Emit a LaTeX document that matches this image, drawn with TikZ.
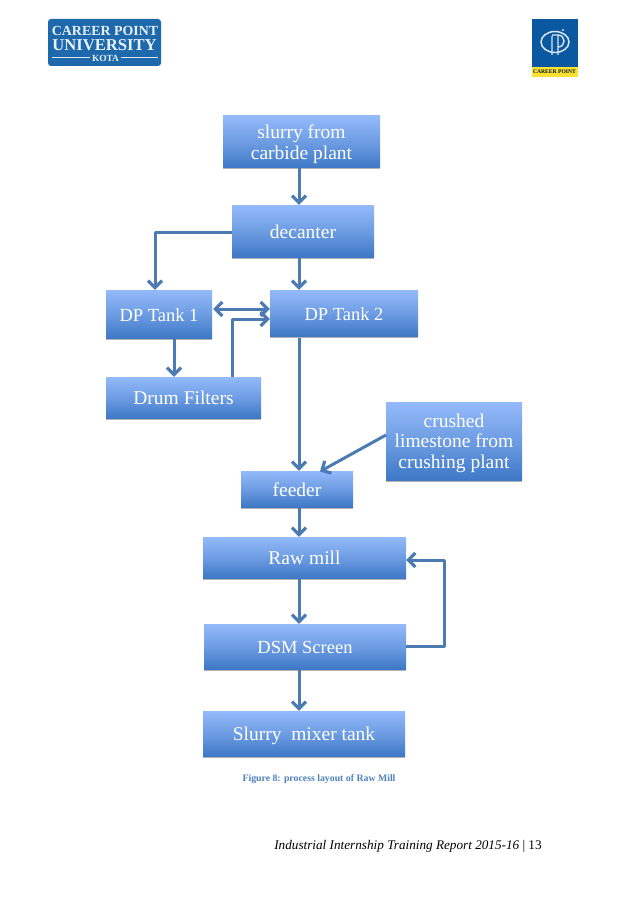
\documentclass[tikz,border=0pt]{standalone}
\usepackage{fontspec}
\setmainfont{Liberation Serif}
\usetikzlibrary{arrows.meta,shadows}
\definecolor{boxtop}{RGB}{148,186,250}
\definecolor{boxbot}{RGB}{62,120,198}
\definecolor{linkc}{RGB}{76,122,178}
\definecolor{capc}{RGB}{79,129,189}
\definecolor{logoblue}{RGB}{30,105,172}
\definecolor{cpblue}{RGB}{10,88,160}
\definecolor{cpyellow}{RGB}{250,225,50}
\tikzset{
  flowbox/.style={rectangle,inner sep=0pt,text=white,align=center,
    top color=boxtop,bottom color=boxbot,middle color=boxtop!55!boxbot,
    font=\fontsize{19.5}{20.5}\selectfont,
    drop shadow={shadow xshift=0pt,shadow yshift=-1.5pt,opacity=.3,fill=black}},
  barb/.tip={Straight Barb[length=7pt,width=14pt,line width=3.2pt]},
  link/.style={draw=linkc,line width=3pt,line join=round,-{barb}},
  linkboth/.style={draw=linkc,line width=3pt,{barb}-{barb}},
  logotext/.style={inner sep=0pt,text=white!90!logoblue}
}
\newcommand{\placebox}[6]{% name, x0, y0, x1, y1, text
  \node[flowbox,minimum width=#4pt-#2pt,minimum height=#5pt-#3pt] (#1) at ({(#2+#4)/2},{(#3+#5)/2}) {\rule[-4pt]{0pt}{22pt}#6};}
\begin{document}
\begin{tikzpicture}[x=1pt,y=-1pt]
\fill[white] (0,0) rectangle (638,904);
\useasboundingbox (0,0) rectangle (638,904);
% left logo
\node[rectangle,rounded corners=3pt,fill=logoblue,minimum width=113pt,minimum height=47pt,inner sep=0pt] (logoL) at (104.5,42.5) {};
\node[logotext,font=\bfseries\fontsize{13.9}{14}\selectfont] (lcp) at (105,31) {CAREER POINT};
\node[logotext,font=\bfseries\fontsize{16.6}{17}\selectfont] (luni) at (104.5,45.5) {UNIVERSITY};
\node[logotext,font=\bfseries\fontsize{9.4}{10}\selectfont] (lkota) at (105.5,58) {KOTA};
\coordinate (lleft) at (52,57.5);
\coordinate (lright) at (158,57.5);
\draw[white!85!logoblue,line width=.7pt,shorten >=2pt] (lleft) -- (lkota.west |- lleft);
\draw[white!85!logoblue,line width=.7pt,shorten <=2pt] (lkota.east |- lright) -- (lright);
% right logo
\node[rectangle,fill=cpblue,minimum width=46pt,minimum height=48pt,inner sep=0pt] (logoR) at (554.5,43) {};
\node[rectangle,fill=cpyellow,minimum width=46pt,minimum height=10pt,inner sep=0pt] (logoRb) at (554.5,72) {};
\node[inner sep=0pt,text=black!80!cpblue,font=\bfseries\fontsize{5.6}{6}\selectfont] (cptext) at (554.5,72) {CAREER POINT};
\draw[white!85!cpblue,line width=1.5pt] (555,42) ellipse [x radius=14,y radius=10.5];
\draw[white!85!cpblue,line width=1.4pt] (552,36) -- (552,55) (558,36) -- (558,55)
  (552,35) -- (558,35) .. controls (566,35) and (566,47) .. (558,47);
\fill[white!85!cpblue] (563,30) circle (1.2);
% flow boxes
\placebox{slurry}{223}{116}{380}{168}{slurry from\\carbide plant}
\placebox{decanter}{232}{205}{374}{257}{decanter}
\placebox{tankone}{106}{290}{212}{338}{\fontsize{18.5}{20.5}\selectfont DP Tank 1}
\placebox{tanktwo}{270}{290}{418}{336}{\fontsize{18.5}{20.5}\selectfont DP Tank 2}
\placebox{drum}{106}{377}{261}{418}{Drum Filters}
\placebox{crushed}{386}{402}{522}{480}{crushed\\limestone from\\crushing plant}
\placebox{feeder}{241}{471}{353}{507}{feeder}
\placebox{rawmill}{203}{537}{406}{578}{Raw mill}
\placebox{dsm}{204}{624}{406}{669}{\fontsize{18.5}{20.5}\selectfont DSM Screen}
\placebox{mixer}{203}{711}{405}{756}{Slurry\ \ mixer tank}
% guide coordinates
\coordinate (ax) at (299,0);
\coordinate (ay1) at (155,232);
\coordinate (ay2) at (174,0);
\coordinate (ay3) at (232,319);
\coordinate (ay4) at (444,0);
\coordinate (ay5) at (0,309);
\coordinate (cin) at (320,471.5);
\coordinate (cout) at (386,435);
\coordinate (fb1) at (0,646);
\coordinate (fb2) at (0,560);
% connectors
\draw[link] (slurry.south -| ax) -- (decanter.north -| ax);
\draw[link] (decanter.west |- ay1) -- (ay1) -- (tankone.north -| ay1);
\draw[link] (decanter.south -| ax) -- (tanktwo.north -| ax);
\draw[linkboth] (tankone.east |- ay5) ++(1,0) -- (tanktwo.west |- ay5);
\draw[link] (tankone.south -| ay2) -- (drum.north -| ay2);
\draw[link] (drum.north -| ay3) -- (ay3) -- (tanktwo.west |- ay3);
\draw[link] (tanktwo.south -| ax) ++(0,2) -- (feeder.north -| ax);
\draw[link] (cout) -- (cin);
\draw[link] (feeder.south -| ax) -- (rawmill.north -| ax);
\draw[link] (rawmill.south -| ax) -- (dsm.north -| ax);
\draw[link] (dsm.south -| ax) -- (mixer.north -| ax);
\draw[link] (dsm.east |- fb1) -- (ay4 |- fb1) -- (ay4 |- fb2) -- (rawmill.east |- fb2);
% captions
\node[inner sep=0pt,text=capc,font=\bfseries\fontsize{9.8}{11}\selectfont] (caption) at (319,779) {Figure 8: process layout of Raw Mill};
\node[inner sep=0pt,text=black,font=\fontsize{13.2}{15}\selectfont] (footer) at (408,846) {\textit{Industrial Internship Training Report 2015-16} | 13};
\end{tikzpicture}
\end{document}
